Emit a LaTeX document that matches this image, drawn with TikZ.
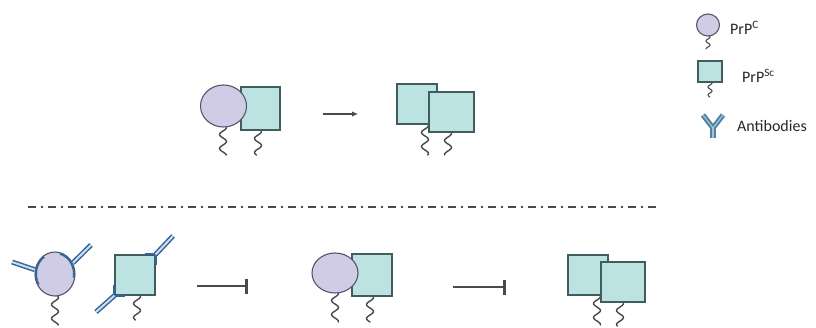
\documentclass[tikz,border=0pt]{standalone}
\usepackage{fontspec}
\setmainfont{Carlito}
\usetikzlibrary{shapes.geometric,arrows.meta}

\definecolor{circfill}{HTML}{D0CCE6}
\definecolor{circline}{HTML}{55556A}
\definecolor{sqfill}{HTML}{BCE2E2}
\definecolor{sqline}{HTML}{3F5C5E}
\definecolor{tailcol}{HTML}{4A4A4A}
\definecolor{abblue}{HTML}{35669A}
\definecolor{ablight}{HTML}{C9DFF0}
\definecolor{legblue}{HTML}{52819F}
\definecolor{txt}{HTML}{262626}

\begin{document}
\begin{tikzpicture}[x=1pt,y=-1pt,
  prpc/.style={ellipse, draw=circline, fill=circfill, line width=1.1pt, inner sep=0pt},
  prpsc/.style={rectangle, draw=sqline, fill=sqfill, line width=1.2pt, inner sep=0pt},
  tailline/.style={draw=tailcol, line width=1.4pt, line cap=round},
  pics/tail/.style={code={\draw[tailline] plot[domain=0:#1, samples=40, smooth] ({3.5*sin(\x*360/14)}, \x);}},
  pics/stail/.style={code={\draw[tailline, line width=1.1pt] plot[domain=0:#1, samples=30, smooth] ({2*sin(\x*360/8)}, \x);}},
  ab/.style={draw=abblue, line width=1.5pt, double=ablight, double distance=2pt},
  abarm/.style={draw=abblue, line width=2pt},
  convert/.style={draw=tailcol, line width=1.1pt, -{Latex[length=6pt,width=5.5pt]}},
  inhib/.style={draw=tailcol, line width=1.4pt, -{Bar[width=15pt,line width=3.2pt]}},
  divider/.style={draw=tailcol, line width=2pt, dash pattern=on 8pt off 5pt on 2pt off 5pt},
  legtext/.style={anchor=west, text=txt, font=\fontsize{16}{18}\selectfont, inner sep=0pt}
]
\useasboundingbox (0,0) rectangle (816,327);

% ---------- upper row: PrP^C + PrP^Sc -> two PrP^Sc ----------
\pic at (223,124) {tail=31};
\pic at (258,128) {tail=27};
\node[prpsc, minimum width=39pt, minimum height=43pt] (s1) at (260.5,108.5) {};
\node[prpc, minimum width=46pt, minimum height=42pt] (c1) at (223.5,106) {};

\coordinate (a1s) at (323,114);
\coordinate (a1e) at (358,114);
\draw[convert] (a1s) -- (a1e);

\pic at (425,122) {tail=33};
\pic at (448,130) {tail=25};
\node[prpsc, minimum width=40pt, minimum height=40pt] (s2a) at (417,104) {};
\node[prpsc, minimum width=45pt, minimum height=40pt] (s2b) at (451.5,112) {};

% ---------- divider ----------
\coordinate (d1) at (28,207);
\coordinate (d2) at (656,207);
\draw[divider] (d1) -- (d2);

% ---------- lower row: antibody-bound monomers ----------
\pic at (55,294) {tail=31};
\pic at (137,293) {tail=27};
\node[prpc, minimum width=40pt, minimum height=44pt] (c3) at (55,274) {};
\node[prpsc, minimum width=40pt, minimum height=40pt] (s3) at (135,275) {};

% antibodies on the PrP^C
\draw[abarm] ([shift={(55,274)}]150:19 and 21) arc[start angle=150, end angle=235, x radius=19, y radius=21];
\draw[abarm] ([shift={(55,274)}]285:19 and 21) arc[start angle=285, end angle=370, x radius=19, y radius=21];
\coordinate (ab1) at (12,262);
\coordinate (ab2) at (91,245);
\draw[ab] (ab1) -- (c3.168);
\draw[ab] (ab2) -- (c3.32);

% antibodies on the PrP^Sc
\draw[abarm] ([xshift=-11pt]s3.north east) -- (s3.north east) -- ([yshift=-11pt]s3.north east);
\draw[abarm] ([yshift=11pt]s3.south west) -- (s3.south west) -- ([xshift=11pt]s3.south west);
\coordinate (ab3) at (173,236);
\coordinate (ab4) at (96,312);
\draw[ab] (ab3) -- (s3.north east);
\draw[ab] (ab4) -- (s3.south west);

\coordinate (i1s) at (197,286);
\coordinate (i1e) at (248,286);
\draw[inhib] (i1s) -- (i1e);

\pic at (335,290) {tail=32};
\pic at (370,294) {tail=28};
\node[prpsc, minimum width=40pt, minimum height=42pt] (s4) at (372,275) {};
\node[prpc, minimum width=46pt, minimum height=40pt] (c4) at (335,273) {};

\coordinate (i2s) at (453,287);
\coordinate (i2e) at (506,287);
\draw[inhib] (i2s) -- (i2e);

\pic at (597,293) {tail=32};
\pic at (620,300) {tail=26};
\node[prpsc, minimum width=40pt, minimum height=40pt] (s5a) at (588,275) {};
\node[prpsc, minimum width=44pt, minimum height=40pt] (s5b) at (623,282) {};

% ---------- legend ----------
\pic at (708,35) {stail=14};
\node[prpc, minimum width=23pt, minimum height=22pt] (lc) at (708,25) {};
\node[legtext] (lct) at (730,28) {PrP\textsuperscript{C}};

\pic at (710,81) {stail=16};
\node[prpsc, minimum width=24pt, minimum height=21pt] (ls) at (710,71.5) {};
\node[legtext] (lst) at (742,76) {PrP\textsuperscript{Sc}};

\coordinate (yl) at (703,115);
\coordinate (yr) at (723,115);
\coordinate (yj) at (713,128);
\coordinate (yb) at (713,138);
\draw[draw=legblue, line width=2pt, double=ablight!70!legblue, double distance=1.2pt, line join=round] (yl) -- (yj) -- (yr);
\draw[draw=legblue, line width=2pt, double=ablight!70!legblue, double distance=1.2pt] (yj) -- (yb);
\node[legtext] (lat) at (737,126) {Antibodies};
\end{tikzpicture}
\end{document}
